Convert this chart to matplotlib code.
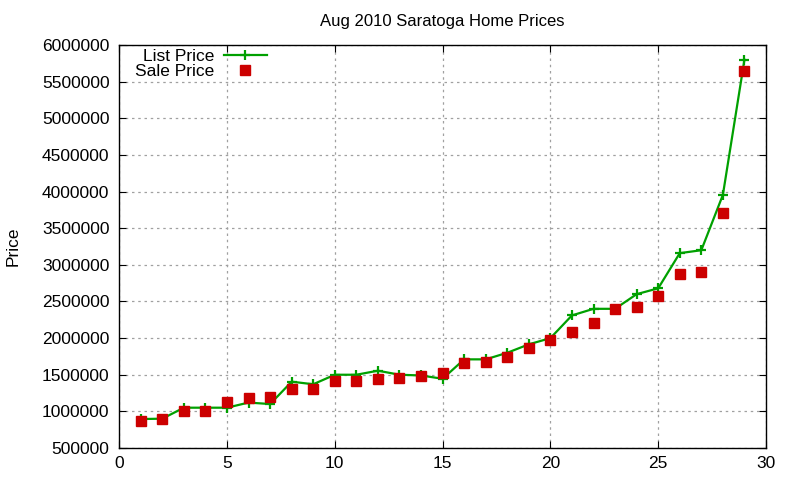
import matplotlib
matplotlib.use("Agg")
import matplotlib.pyplot as plt
from matplotlib.ticker import MultipleLocator

plt.rcParams['font.family'] = ['Liberation Sans', 'DejaVu Sans']

idx = list(range(1, 30))
list_price = [895000, 900000, 1050000, 1050000, 1050000, 1120000, 1100000, 1405000, 1370000,
              1500000, 1500000, 1555000, 1500000, 1490000, 1445000, 1710000, 1710000, 1800000,
              1915000, 2000000, 2310000, 2400000, 2400000, 2600000, 2680000, 3160000, 3200000,
              3955000, 5800000]
sale_price = [870000, 895000, 1000000, 1000000, 1125000, 1185000, 1200000, 1310000, 1310000,
              1410000, 1410000, 1440000, 1455000, 1480000, 1520000, 1660000, 1670000, 1740000,
              1860000, 1980000, 2080000, 2210000, 2400000, 2430000, 2580000, 2870000, 2900000,
              3710000, 5650000]

fig = plt.figure(figsize=(8, 4.8), dpi=100)
ax = fig.add_axes([0.149, 0.0667, 0.8085, 0.8393])

ax.plot(idx, list_price, color='#00a000', lw=1.6, marker='+', ms=7, mew=1.6,
        label='List Price', zorder=3)
ax.plot(idx, sale_price, ls='none', color='#cc0000', marker='s', ms=6.5,
        label='Sale Price', zorder=4)

ax.set_xlim(0, 30)
ax.set_ylim(500000, 6000000)
ax.xaxis.set_major_locator(MultipleLocator(5))
ax.yaxis.set_major_locator(MultipleLocator(500000))
ax.ticklabel_format(style='plain', axis='y', useOffset=False)
ax.tick_params(direction='in', top=True, right=True, length=5, labelsize=12.5, colors='black')
ax.tick_params(axis='y', pad=7)
ax.tick_params(axis='x', pad=6)
ax.grid(True, color='#a0a0a0', ls=(0, (2, 3)), lw=0.9)
ax.set_axisbelow(True)
for s in ax.spines.values():
    s.set_linewidth(1.0)

ax.set_title('Aug 2010 Saratoga Home Prices', fontsize=12, pad=14)
ax.set_ylabel('Price', fontsize=12.5, labelpad=15)

leg = ax.legend(loc='upper right', frameon=False, markerfirst=False, fontsize=12.5,
                bbox_to_anchor=(0.2287, 0.99), handlelength=2.5, borderaxespad=0.0,
                borderpad=0.0, labelspacing=0.0, handletextpad=0.55)
for t in leg.get_texts():
    t.set_ha('right')

fig.savefig('out.png', dpi=100)
